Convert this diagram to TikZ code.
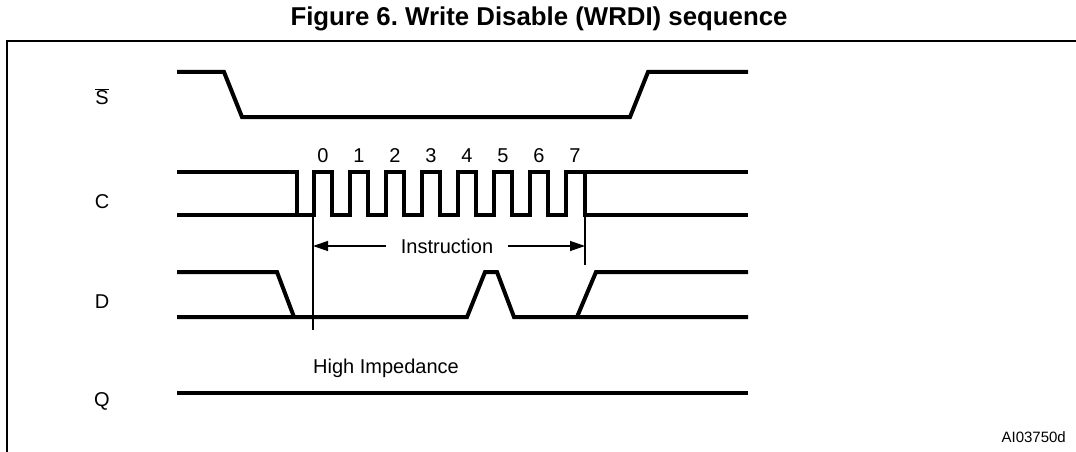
\documentclass[tikz,border=0pt]{standalone}
\usepackage{fontspec}
\setmainfont{Liberation Sans}
\usetikzlibrary{arrows.meta}
\frenchspacing
\begin{document}
\begin{tikzpicture}[x=1pt,y=-1pt,
  sig/.style={line width=4pt,line join=miter},
  thin/.style={line width=1.3pt},
  lbl/.style={font=\fontsize{20}{24}\selectfont,inner sep=0pt},
  frame/.style={line width=2.5pt},
  dim/.style={thin,-{Triangle[length=15pt,width=10pt]}}]
\useasboundingbox (0,0) rectangle (1076,452);
% title and frame
\node[font=\bfseries\fontsize{25.8}{30}\selectfont,inner sep=0pt] (title) at (539,19) {Figure 6. Write Disable (WRDI) sequence};
\draw[frame] (7,452) -- (7,41) -- (1076,41);
% signal labels
\node[lbl] (lS) at (102,97) {$\overline{\mbox{S}}$};
\node[lbl] (lC) at (102,202) {C};
\node[lbl] (lD) at (102,302) {D};
\node[lbl] (lQ) at (102,401) {Q};
% S
\draw[sig] (177,72) -- (224,72) -- (242,117) -- (630,117) -- (648,72) -- (748,72);
% C
\draw[sig] (177,172) -- (297,172) -- (297,215);
\draw[sig] (177,215) -- (314,215)
  \foreach \k in {0,...,6} { -- ({314+36*\k},172) -- ({332+36*\k},172) -- ({332+36*\k},215) -- ({350+36*\k},215) }
  -- (566,172) -- (748,172);
\draw[sig] (585,172) -- (585,215) -- (748,215);
\foreach \k in {0,...,7} { \node[lbl] (n\k) at ({323+36*\k},156) {\k}; }
% D
\draw[sig] (177,272) -- (277,272) -- (294,317);
\draw[sig] (177,317) -- (467,317) -- (485,272) -- (497,272) -- (514,317) -- (748,317);
\draw[sig] (577,317) -- (596,272) -- (748,272);
% Q
\draw[sig] (177,393) -- (748,393);
\node[lbl,anchor=west] (hz) at (313,368) {High Impedance};
% instruction markers
\coordinate (m1t) at (313,215);
\coordinate (m1b) at (313,330);
\coordinate (m2t) at (585,215);
\coordinate (m2b) at (585,265);
\draw[thin] (m1t) -- (m1b);
\draw[thin] (m2t) -- (m2b);
\node[lbl] (ins) at (447,246) {Instruction};
\coordinate (a1) at (313,246);
\coordinate (a2) at (585,246);
\draw[dim] (ins.west) ++(-15pt,0) -- (a1);
\draw[dim] (ins.east) ++(15pt,0) -- (a2);
\node[font=\fontsize{15}{18}\selectfont,inner sep=0pt,anchor=east] (code) at (1066,437) {AI03750d};
\end{tikzpicture}
\end{document}
